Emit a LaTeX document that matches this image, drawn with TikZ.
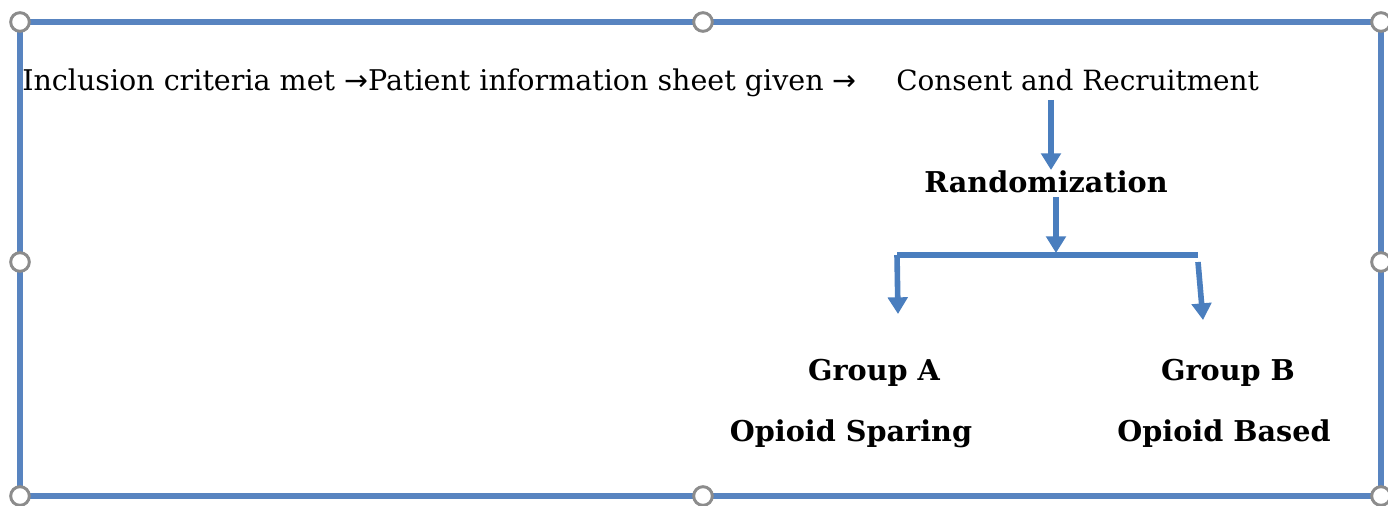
\documentclass[tikz,border=0pt]{standalone}
\usepackage{fontspec}
\setmainfont{DejaVu Serif}
\newfontfamily\arrowfont{DejaVu Sans}
\usetikzlibrary{arrows.meta}
\definecolor{frameblue}{RGB}{88,132,192}
\definecolor{arrowblue}{RGB}{74,126,190}
\definecolor{handlegray}{RGB}{140,140,140}
\tikzset{
  lbl/.style={inner sep=0pt, font=\fontsize{21.4}{25}\selectfont, text=black},
  blbl/.style={inner sep=0pt, font=\fontsize{21.5}{25}\selectfont\bfseries, text=black, anchor=base},
  flow/.style={draw=arrowblue, line width=4.2pt, -{Triangle[width=14.5pt,length=12.5pt]}},
  bar/.style={draw=arrowblue, line width=4.2pt},
  handle/.style={circle, draw=handlegray, fill=white, line width=2.2pt, minimum size=14pt, inner sep=0pt},
}
\begin{document}
\begin{tikzpicture}[x=0.75pt,y=-0.75pt]
\useasboundingbox (0,0) rectangle (1388,506);
% frame
\draw[frameblue, line width=3.8pt] (20,22) rectangle (1381,496);
\foreach \n/\p in {h1/{(20,22)},h2/{(703,22)},h3/{(1381,22)},h4/{(20,262)},h5/{(1381,262)},h6/{(20,496)},h7/{(703,496)},h8/{(1381,496)}}
  \node[handle] (\n) at \p {};
% texts
\node[lbl, anchor=base west] (top) at (22,91) {Inclusion criteria met {\arrowfont →}Patient information sheet given {\arrowfont →}};
\node[lbl, anchor=base west, font=\fontsize{20.9}{25}\selectfont] (cons) at (896,91) {Consent and Recruitment};
\node[blbl] (rand) at (1046,193) {Randomization};
\node[blbl] (ga) at (874,380) {Group A};
\node[blbl] (gas) at (851,441) {Opioid Sparing};
\node[blbl] (gb) at (1228,380) {Group B};
\node[blbl] (gbs) at (1224,441) {Opioid Based};
% connector points
\coordinate (c1s) at (1051,100);
\coordinate (c1e) at (1051,170);
\coordinate (c2s) at (1056,197);
\coordinate (c2e) at (1056,253);
\coordinate (bl) at (897,255);
\coordinate (br) at (1198,255);
\coordinate (ale) at (898,314);
\coordinate (brs) at (1198,262);
\coordinate (bre) at (1203,320);
\draw[flow] (c1s) -- (c1e);
\draw[flow] (c2s) -- (c2e);
\draw[bar] (bl) -- (br);
\draw[flow] (bl) -- (ale);
\draw[flow] (brs) -- (bre);
\end{tikzpicture}
\end{document}
